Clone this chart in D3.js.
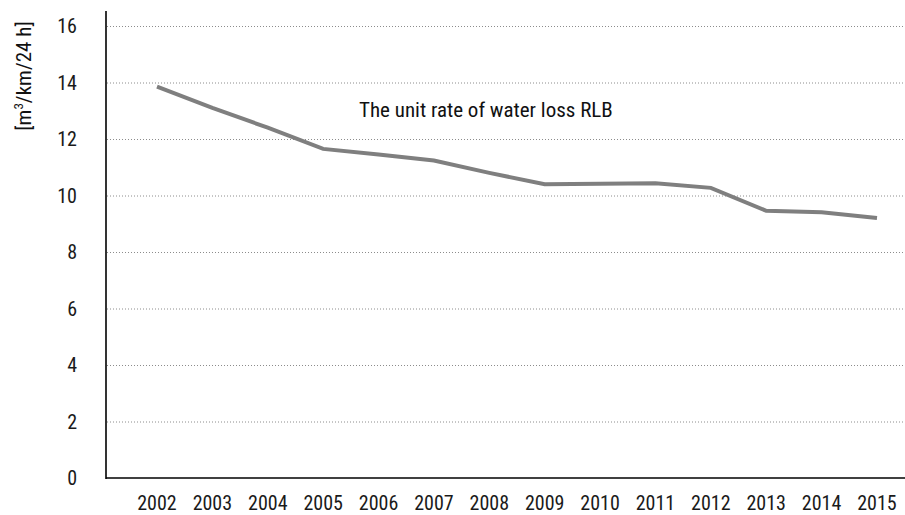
<!DOCTYPE html>
<html>
<head>
<meta charset="utf-8">
<script src="https://cdn.jsdelivr.net/npm/d3@7"></script>
<style>
  body { margin: 0; background: #fff; }
  text { font-family: "Liberation Sans Narrow", "Roboto Condensed", "Roboto", sans-serif; }
</style>
</head>
<body>
<div id="chart"></div>
<script>
var years = ["2002", "2003", "2004", "2005", "2006", "2007", "2008", "2009", "2010", "2011", "2012", "2013", "2014", "2015"];
var rlb = [13.85, 13.1, 12.4, 11.65, 11.45, 11.24, 10.8, 10.4, 10.42, 10.43, 10.27, 9.46, 9.41, 9.2];
var yTicks = [0, 2, 4, 6, 8, 10, 12, 14, 16];
var seriesName = "The unit rate of water loss RLB";

var width = 905, height = 515;
var plotLeft = 106, plotRight = 905, plotTop = 26, plotBottom = 478;

var svg = d3.select("#chart").append("svg")
    .attr("width", width)
    .attr("height", height);

var x = d3.scalePoint()
    .domain(years)
    .range([157, 877]);

var y = d3.scaleLinear()
    .domain([0, 16])
    .range([plotBottom, plotTop]);

// dotted grid
svg.append("g")
    .selectAll("line")
    .data(yTicks.filter(function(d){ return d > 0; }))
    .enter()
    .append("line")
    .attr("x1", plotLeft + 1)
    .attr("x2", plotRight)
    .attr("y1", function(d){ return y(d) + 0.5; })
    .attr("y2", function(d){ return y(d) + 0.5; })
    .attr("stroke", "#8c8c8c")
    .attr("stroke-width", 1)
    .attr("stroke-dasharray", "1,2");

// y tick labels
svg.append("g")
    .selectAll("text")
    .data(yTicks)
    .enter()
    .append("text")
    .attr("x", 77)
    .attr("y", function(d){ return y(d); })
    .attr("dy", "0.35em")
    .attr("text-anchor", "end")
    .attr("font-size", 20)
    .attr("fill", "#1a1a1a")
    .text(function(d){ return d; });

// x tick labels
svg.append("g")
    .selectAll("text")
    .data(years)
    .enter()
    .append("text")
    .attr("x", function(d){ return x(d); })
    .attr("y", 510)
    .attr("text-anchor", "middle")
    .attr("font-size", 20)
    .attr("fill", "#1a1a1a")
    .text(function(d){ return d; });

// axes
svg.append("line")
    .attr("x1", plotLeft).attr("x2", plotLeft)
    .attr("y1", 11).attr("y2", plotBottom + 1)
    .attr("stroke", "#000").attr("stroke-width", 1.6);
svg.append("line")
    .attr("x1", plotLeft).attr("x2", plotRight)
    .attr("y1", plotBottom).attr("y2", plotBottom)
    .attr("stroke", "#000").attr("stroke-width", 1.6);

// series line
var line = d3.line()
    .x(function(d, i){ return x(years[i]); })
    .y(function(d){ return y(d); });

svg.append("path")
    .datum(rlb)
    .attr("d", line)
    .attr("fill", "none")
    .attr("stroke", "#7f7f7f")
    .attr("stroke-width", 4);

// series label
svg.append("text")
    .attr("x", 359)
    .attr("y", 117)
    .attr("font-size", 21)
    .attr("fill", "#111")
    .text(seriesName);

// y title
var yt = svg.append("text")
    .attr("transform", "translate(31,76) rotate(-90)")
    .attr("text-anchor", "middle")
    .attr("font-size", 21)
    .attr("fill", "#111");
yt.append("tspan").text("[m");
yt.append("tspan").attr("dy", -8).attr("font-size", 13).text("3");
yt.append("tspan").attr("dy", 8).text("/km/24 h]");
</script>
</body>
</html>
